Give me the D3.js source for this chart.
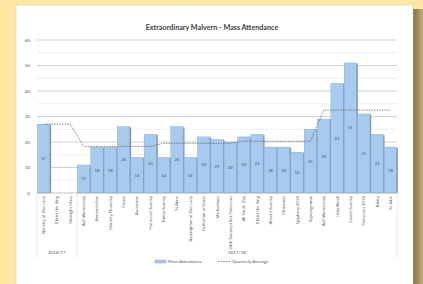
<!DOCTYPE html>
<html><head><meta charset="utf-8">
<script src="https://cdn.jsdelivr.net/npm/d3@7"></script>
<style>html,body{margin:0;padding:0;overflow:hidden;background:#fde7a2;}</style>
</head><body>
<svg id="c" width="423" height="284"></svg>
<script>
const categories = ["Nativity of Our Lady","Christ the King","Midnight Mass","Ash Wednesday","Annunciation","Maundy Thursday","Easter","Ascension","Pentecost Sunday","Trinity Sunday","St Anne","Assumption of Our Lady","Exaltation of Cross","Michaelmas","24th Sunday after Pentecost","All Souls' Day","Christ the King","Advent Sunday","Christmas","Epiphany 2018","Septuagesima","Ash Wednesday","Holy Week","Easter Sunday","Pentecost 2018","Trinity","St John"];
const attendance = [27,null,null,11,18,18,26,14,23,14,26,14,22,21,20,22,23,18,18,16,25,29,43,51,31,23,18];
const quarterlyAvg = [27,27,27,18.3,18.3,18.3,18.3,18.3,18.3,19.5,19.5,19.5,19.5,19.5,19.5,20.3,20.3,20.3,20.3,20.3,20.3,32.5,32.5,32.5,32.5,32.5,32.5];
const groups = [{name:"2016/17", from:0, to:2},{name:"2017/18", from:3, to:26}];
const yTicks = [0,10,20,30,40,50,60];
const title = "Extraordinary Malvern - Mass Attendance";
const seriesNames = ["Mass Attendance","Quarterly Average"];

const svg = d3.select("#c");
const font = "Lato, 'Open Sans', sans-serif";
const defs = svg.append("defs");
const g1 = defs.append("linearGradient").attr("id","sh").attr("x1","0").attr("x2","1");
g1.append("stop").attr("offset","0").attr("stop-color","#7c6c44");
g1.append("stop").attr("offset","1").attr("stop-color","#c2ad7a");

svg.append("rect").attr("width",423).attr("height",284).attr("fill","#fde7a2");
svg.append("rect").attr("x",412).attr("y",9).attr("width",11).attr("height",280).attr("fill","url(#sh)");
svg.append("rect").attr("x",16).attr("y",5).attr("width",397).attr("height",290).attr("fill","#fff").attr("stroke","#cfcfcf").attr("stroke-width",0.6);

const x = d3.scaleBand().domain(d3.range(categories.length)).range([37,397]).paddingInner(0.07).paddingOuter(0.03);
const y = d3.scaleLinear().domain([0,60]).range([193,40]);

// gridlines every 5
const grid = d3.range(5,61,5);
svg.append("g").selectAll("line").data(grid).join("line")
  .attr("x1",37).attr("x2",397).attr("y1",d=>y(d)).attr("y2",d=>y(d))
  .attr("stroke",d=>d%10===0?"#bcbcbc":"#e6e6e6").attr("stroke-width",0.7);

// y axis labels
const yAxis = d3.axisLeft(y).tickValues(yTicks).tickSize(0).tickPadding(7);
const ya = svg.append("g").attr("transform","translate(37,0)").call(yAxis);
ya.select(".domain").remove();
ya.selectAll("text").attr("font-family",font).attr("font-size",4.6).attr("fill","#595959");

// bars
const bw = x.bandwidth();
const bars = attendance.map((v,i)=>({v,i})).filter(d=>d.v!=null);
svg.append("g").selectAll("rect").data(bars).join("rect")
  .attr("x",d=>x(d.i)+1.3).attr("y",d=>y(d.v)+0.6).attr("width",bw).attr("height",d=>y(0)-y(d.v)-0.6)
  .attr("fill","#8796a8");
svg.append("g").selectAll("rect").data(bars).join("rect")
  .attr("x",d=>x(d.i)).attr("y",d=>y(d.v)).attr("width",bw).attr("height",d=>y(0)-y(d.v))
  .attr("fill","#a8caee").attr("stroke","#7fa6d2").attr("stroke-width",0.4);
svg.append("g").selectAll("text").data(bars).join("text")
  .attr("x",d=>x(d.i)+bw/2).attr("y",d=>(y(d.v)+y(0))/2+1.5)
  .attr("text-anchor","middle").attr("font-family",font).attr("font-size",4.2).attr("fill","#3d5676")
  .text(d=>d.v);

// axis line
svg.append("line").attr("x1",37).attr("x2",397).attr("y1",y(0)).attr("y2",y(0)).attr("stroke","#a6a6a6").attr("stroke-width",0.7);

// average line
const line = d3.line().x((d,i)=>x(i)+bw/2).y(d=>y(d));
svg.append("path").attr("d",line(quarterlyAvg)).attr("fill","none").attr("stroke","#666").attr("stroke-width",0.75).attr("stroke-dasharray","1.6,1");

// category labels
svg.append("g").selectAll("text").data(categories).join("text")
  .attr("transform",(d,i)=>`translate(${x(i)+bw/2+1.5},196) rotate(-90)`)
  .attr("text-anchor","end").attr("font-family",font).attr("font-size",4.3).attr("fill","#595959")
  .text(d=>d);

// group separators & labels
const bounds = [37, (x(2)+bw+x(3))/2, 397];
svg.append("g").selectAll("line").data(bounds).join("line")
  .attr("x1",d=>d).attr("x2",d=>d).attr("y1",y(0)).attr("y2",258)
  .attr("stroke","#d9d9d9").attr("stroke-width",0.6);
svg.append("g").selectAll("text").data(groups).join("text")
  .attr("x",d=>(x(d.from)+x(d.to)+bw)/2).attr("y",254)
  .attr("text-anchor","middle").attr("font-family",font).attr("font-size",4.6).attr("fill","#595959")
  .text(d=>d.name);

// title
svg.append("text").attr("x",212).attr("y",30).attr("text-anchor","middle")
  .attr("font-family",font).attr("font-weight","bold").attr("font-size",7.2).attr("fill","#404040").text(title);

// legend
const lg = svg.append("g").attr("transform","translate(0,262)");
lg.append("rect").attr("x",155).attr("y",-2).attr("width",11).attr("height",3).attr("fill","#a8caee").attr("stroke","#7fa6d2").attr("stroke-width",0.4);
lg.append("text").attr("x",167.5).attr("y",1.4).attr("font-family",font).attr("font-size",4.6).attr("fill","#595959").text(seriesNames[0]);
lg.append("line").attr("x1",218).attr("x2",230).attr("y1",-0.5).attr("y2",-0.5).attr("stroke","#666").attr("stroke-width",0.75).attr("stroke-dasharray","1.6,1");
lg.append("text").attr("x",232).attr("y",1.4).attr("font-family",font).attr("font-size",4.6).attr("fill","#595959").text(seriesNames[1]);
</script>
</body></html>
